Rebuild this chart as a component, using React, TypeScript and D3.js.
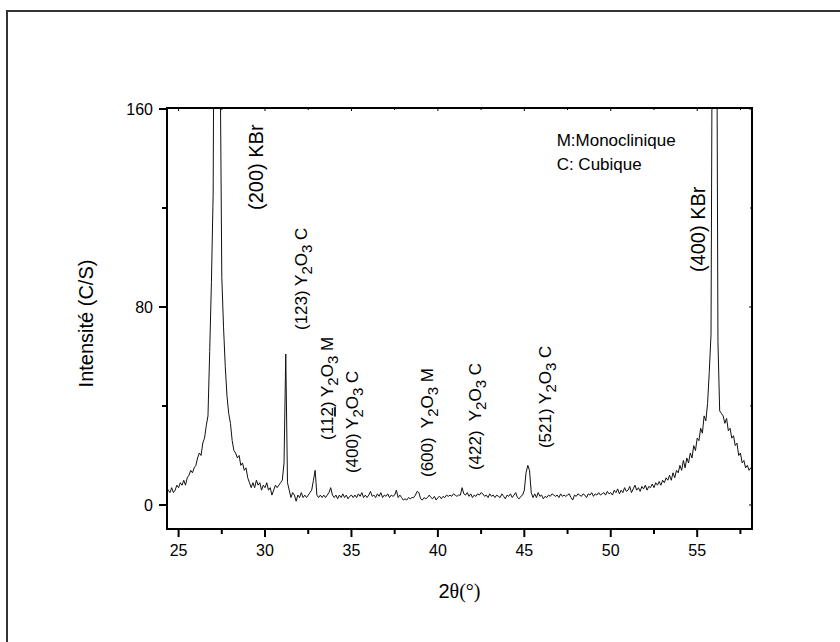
import React from "react";
import * as d3 from "d3";

// 2θ sampling of the scan: first angle and step (degrees)
const startAngle = 24.3;
const stepAngle = 0.1;

// Intensity (C/S), one value per 0.1° from 24.3° to 58.2°
const intensity: number[] = [
  7, 6, 5, 7, 5, 6, 8, 7, 9, 8,
  10, 8, 11, 12, 14, 13, 15, 16, 19, 21,
  20, 25, 27, 32, 36, 62, 90, 126, 290, 430,
  390, 185, 92, 72, 56, 44, 37, 33, 26, 22,
  21, 19, 20, 16, 17, 14, 15, 11, 9, 7,
  9, 7, 10, 8, 9, 6, 8, 7, 9, 6,
  7, 4, 6, 8, 7, 8, 9, 10, 17, 61,
  9, 6, 3, 5, 4, 1.5, 4, 3, 5, 3,
  4, 3, 4, 5, 6, 10, 14, 4, 3, 4,
  3, 4, 3, 4, 5, 7, 4, 3, 4, 2.5,
  4, 3, 4.5, 3, 4, 2.5, 3.5, 4, 3, 4,
  3, 4.5, 3.5, 5, 3, 4, 3, 4, 5.5, 3.5,
  4, 3, 4.5, 3.5, 5, 3, 4, 3.5, 4.5, 3,
  4, 3.5, 4, 6, 3, 4, 3, 2, 2.5, 2,
  3, 2.5, 3, 3, 4, 5.5, 5, 2.5, 2, 3,
  2.5, 3, 4, 3, 2.5, 3.5, 2, 3, 3.5, 2.5,
  3.5, 3, 4, 3.5, 4, 3.5, 4.5, 4, 3.5, 4,
  4, 7, 4.5, 4, 5, 3.5, 4.5, 3, 4, 3.5,
  4.5, 4, 5, 4.5, 3.5, 4, 3, 4.5, 3.5, 4,
  3, 4, 3.5, 3, 4.5, 3.5, 2.5, 4, 3.5, 4.5,
  3, 4, 5, 3, 2.5, 3.5, 4, 6, 13, 16,
  14, 5, 3, 4.5, 3, 5, 3.5, 4, 2.5, 3.5,
  3, 4, 3.5, 4.5, 4, 3.5, 4, 3, 4.5, 3.5,
  4, 3.5, 4, 4.5, 3, 2, 4, 3.5, 4.5, 4,
  3.5, 4.5, 4, 3, 4.5, 4, 5, 3.5, 4.5, 4,
  5, 4, 4.5, 5, 4, 5.5, 4.5, 5, 4, 6,
  5, 6.5, 4.5, 6, 5, 7, 5.5, 6, 7.5, 5,
  6.5, 8, 6, 7, 5.5, 7.5, 6.5, 8, 6, 7.5,
  7, 8.5, 7, 9, 8, 9.5, 8, 10, 9, 11,
  10, 12, 10, 13, 11, 14, 13, 16, 14, 18,
  15, 19, 17, 21, 19, 24, 22, 27, 26, 31,
  29, 36, 34, 41, 54, 69, 250, 420, 270, 66,
  38, 37, 36, 33, 35, 30, 31, 27, 28, 24,
  25, 20, 21, 17, 18, 15, 16, 14, 15, 14,
];

const xMajorTicks = [25, 30, 35, 40, 45, 50, 55];
const xMinorTicks = [27.5, 32.5, 37.5, 42.5, 47.5, 52.5, 57.5];
const yMajorTicks = [0, 80, 160];
const yMinorTicks = [40, 120];

// Peak labels: hkl, phase formula, phase letter, anchor (2θ, intensity)
const peakHkl = ["(200) KBr", "(123) ", "(112) ", "(400) ", "(600)  ", "(422)  ", "(521) ", "(400) KBr"];
const peakPhase = ["", "C", "M", "C", "M", "C", "C", ""];
const peakAt2Theta = [29.89, 32.44, 33.94, 35.39, 39.73, 42.51, 46.56, 55.47];
const peakAtIntensity = [119.2, 70.7, 26.3, 12.9, 11.3, 14.1, 23.0, 94.1];

const legendLines = ["M:Monoclinique", "C: Cubique"];

const W = 840;
const H = 642;
const plot = { left: 167, right: 752, top: 108, bottom: 529 };
const sans = "Arial, 'Liberation Sans', Helvetica, sans-serif";
const serif = "'Times New Roman', 'Liberation Serif', serif";

export default function App() {
  const x = d3.scaleLinear().domain([24.33, 58.17]).range([plot.left, plot.right]);
  const y = d3.scaleLinear().domain([-9.7, 160.4]).range([plot.bottom, plot.top]);

  const pts: [number, number][] = intensity.map((v, i) => [startAngle + i * stepAngle, v]);
  const line = d3
    .line<[number, number]>()
    .x((d) => x(d[0]))
    .y((d) => y(d[1]));

  const renderPeakLabel = (i: number) => {
    const px = x(peakAt2Theta[i]);
    const py = y(peakAtIntensity[i]);
    const isKBr = peakHkl[i].includes("KBr");
    const fs = isKBr ? 20 : 17;
    const hkl = peakHkl[i];
    return (
      <text
        key={i}
        transform={`translate(${px},${py}) rotate(-90)`}
        fontFamily={sans}
        fontSize={fs}
        fill="#000"
        style={{ whiteSpace: "pre" }}
      >
        {isKBr ? (
          hkl
        ) : hkl.startsWith("(112)") ? (
          <>
            <tspan>(11</tspan>
            <tspan textDecoration="underline">2</tspan>
            <tspan>{") "}</tspan>
            <tspan>Y</tspan>
            <tspan dy={5} fontSize={15}>2</tspan>
            <tspan dy={-5}>O</tspan>
            <tspan dy={5} fontSize={15}>3</tspan>
            <tspan dy={-5}>{" " + peakPhase[i]}</tspan>
          </>
        ) : (
          <>
            <tspan>{hkl}</tspan>
            <tspan>Y</tspan>
            <tspan dy={5} fontSize={15}>2</tspan>
            <tspan dy={-5}>O</tspan>
            <tspan dy={5} fontSize={15}>3</tspan>
            <tspan dy={-5}>{" " + peakPhase[i]}</tspan>
          </>
        )}
      </text>
    );
  };

  return (
    <svg width={W} height={H} style={{ position: "absolute", left: 0, top: 0, background: "#fff" }}>
      <defs>
        <clipPath id="plotClip">
          <rect x={plot.left} y={plot.top} width={plot.right - plot.left} height={plot.bottom - plot.top} />
        </clipPath>
      </defs>
      <rect x={0} y={0} width={W} height={H} fill="#fff" />
      {/* outer frame */}
      <rect x={7} y={11} width={860} height={660} fill="none" stroke="#333" strokeWidth={2} />

      {/* data */}
      <path d={line(pts) || ""} fill="none" stroke="#111" strokeWidth={1} clipPath="url(#plotClip)" />

      {/* axes box */}
      <rect
        x={plot.left}
        y={plot.top}
        width={plot.right - plot.left}
        height={plot.bottom - plot.top}
        fill="none"
        stroke="#000"
        strokeWidth={2}
      />

      {/* bottom ticks */}
      {xMajorTicks.map((t) => (
        <g key={"xm" + t}>
          <line x1={x(t)} x2={x(t)} y1={plot.bottom} y2={plot.bottom + 8} stroke="#000" strokeWidth={2} />
          <line x1={x(t)} x2={x(t)} y1={plot.top} y2={plot.top + 3} stroke="#000" strokeWidth={1} />
          <text x={x(t)} y={556} textAnchor="middle" fontFamily={sans} fontSize={16}>
            {t}
          </text>
        </g>
      ))}
      {xMinorTicks.map((t) => (
        <g key={"xn" + t}>
          <line x1={x(t)} x2={x(t)} y1={plot.bottom} y2={plot.bottom + 5} stroke="#000" strokeWidth={2} />
          <line x1={x(t)} x2={x(t)} y1={plot.top} y2={plot.top + 2} stroke="#000" strokeWidth={1} />
        </g>
      ))}

      {/* left ticks */}
      {yMajorTicks.map((t) => (
        <g key={"ym" + t}>
          <line x1={plot.left - 8} x2={plot.left} y1={y(t)} y2={y(t)} stroke="#000" strokeWidth={2} />
          <line x1={plot.right - 3} x2={plot.right} y1={y(t)} y2={y(t)} stroke="#000" strokeWidth={1} />
          <text x={153} y={y(t)} dy="0.36em" textAnchor="end" fontFamily={sans} fontSize={16}>
            {t}
          </text>
        </g>
      ))}
      {yMinorTicks.map((t) => (
        <g key={"yn" + t}>
          <line x1={plot.left - 5} x2={plot.left} y1={y(t)} y2={y(t)} stroke="#000" strokeWidth={2} />
          <line x1={plot.right - 2} x2={plot.right} y1={y(t)} y2={y(t)} stroke="#000" strokeWidth={1} />
        </g>
      ))}

      {/* axis titles */}
      <text x={459.5} y={598} textAnchor="middle" fontSize={20}>
        <tspan fontFamily={sans}>2</tspan>
        <tspan fontFamily={serif}>θ(°)</tspan>
      </text>
      <text
        transform={`translate(93,${(plot.top + plot.bottom) / 2 + 5}) rotate(-90)`}
        textAnchor="middle"
        fontFamily={sans}
        fontSize={20}
      >
        Intensité (C/S)
      </text>

      {/* peak labels */}
      {peakHkl.map((_, i) => renderPeakLabel(i))}

      {/* legend */}
      {legendLines.map((l, i) => (
        <text key={l} x={x(46.87)} y={y(145.1) + i * 24} fontFamily={sans} fontSize={17}>
          {l}
        </text>
      ))}
    </svg>
  );
}
